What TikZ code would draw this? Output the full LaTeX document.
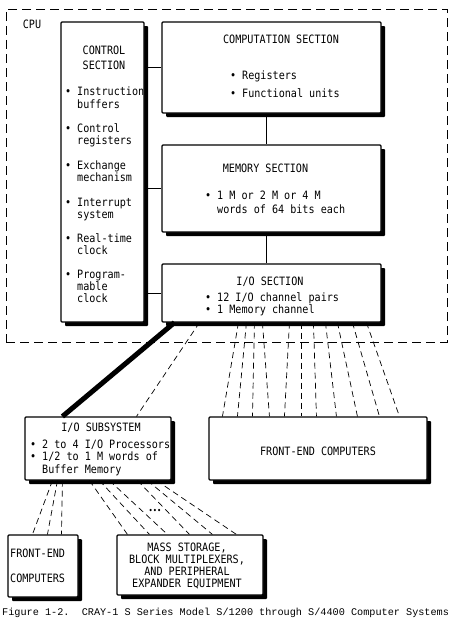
\documentclass[tikz,border=0pt]{standalone}
\usepackage{fontspec}
\newfontfamily\boxfont[FakeStretch=0.88]{DejaVu Sans Mono}
\newfontfamily\capfont{Liberation Mono}
\usetikzlibrary{positioning}

\begin{document}
\begin{tikzpicture}[x=1pt, y=-1pt]
            %Block styles
            \tikzstyle{block} = [draw, fill=white, rectangle, rounded corners=1pt, line width=1.1pt, inner sep=0pt, preaction={fill=black, transform canvas={xshift=4pt, yshift=-4pt}}]
            \tikzstyle{txt} = [inner sep=0pt, font=\boxfont\fontsize{11.5}{12}\selectfont]
            \tikzstyle{item} = [txt, align=left, anchor=base west]
            \tikzstyle{link} = [dash pattern=on 6pt off 4pt, line width=0.7pt]

            \useasboundingbox (0,0) rectangle (452,621);

            %Nodes (multi-line texts sit on the baseline of their last line)
            \node[draw, dash pattern=on 9pt off 5pt, line width=1pt, minimum width=441, minimum height=333] at (226.5,175.5) (cpu) {};
            \node[txt] at (32,24) (cpulabel) {CPU};

            \node[block, minimum width=83, minimum height=300] at (102.5,172) (ctrl) {};
            \node[block, minimum width=219, minimum height=91] at (271.5,67.5) (comp) {};
            \node[block, minimum width=219, minimum height=87] at (271.5,188.5) (mem) {};
            \node[block, minimum width=219, minimum height=58] at (271.5,293) (io) {};
            \node[block, minimum width=146, minimum height=63] at (98,448.5) (iosub) {};
            \node[block, minimum width=218, minimum height=63] at (318,448.5) (febig) {};
            \node[block, minimum width=70, minimum height=62] at (43,566) (fesmall) {};
            \node[block, minimum width=146, minimum height=60] at (190,565) (mass) {};

            %Control section text
            \node[txt, align=center, anchor=base, font=\boxfont\fontsize{11.5}{15}\selectfont] at (104,69) (ctrltitle) {CONTROL\\SECTION};
            \node[item] at (77,108) (ins) {\llap{\textbullet\ }Instruction\\[1pt]buffers};
            \node[item] at (77,144) (creg) {\llap{\textbullet\ }Control\\registers};
            \node[item] at (77,181) (exch) {\llap{\textbullet\ }Exchange\\mechanism};
            \node[item] at (77,218) (intr) {\llap{\textbullet\ }Interrupt\\system};
            \node[item] at (77,254) (rtc) {\llap{\textbullet\ }Real-time\\clock};
            \node[item] at (77,302) (pclk) {\llap{\textbullet\ }Program-\\mable\\clock};

            %Section texts
            \node[txt, anchor=base] at (281,43) (comptitle) {COMPUTATION SECTION};
            \node[item] at (242,79) (regs) {\llap{\textbullet\ }Registers};
            \node[item] at (242,97) (fu) {\llap{\textbullet\ }Functional units};
            \node[txt, anchor=base] at (265.5,172) (memtitle) {MEMORY SECTION};
            \node[item] at (217,213) (words) {\llap{\textbullet\ }1 M or 2 M or 4 M\\[2pt]words of 64 bits each};
            \node[txt, anchor=base] at (270,285) (iotitle) {I/O SECTION};
            \node[item] at (217,313) (chan) {\llap{\textbullet\ }12 I/O channel pairs\\\llap{\textbullet\ }1 Memory channel};

            %Outside the CPU
            \node[txt, anchor=base] at (101,431) (subtitle) {I/O SUBSYSTEM};
            \node[item] at (42,473) (proc) {\llap{\textbullet\ }2 to 4 I/O Processors\\[0.5pt]\llap{\textbullet\ }1/2 to 1 M words of\\[0.5pt]Buffer Memory};
            \node[txt, anchor=base] at (318,455) (fetext) {FRONT-END COMPUTERS};
            \node[item] at (10,582) (fesmalltext) {FRONT-END\\[13pt]COMPUTERS};
            \node[txt, align=center, anchor=base] at (187,587) (masstext) {MASS STORAGE,\\BLOCK MULTIPLEXERS,\\AND PERIPHERAL\\EXPANDER EQUIPMENT};
            \node[txt, font=\boxfont\fontsize{8}{8}\selectfont] at (155,511) (more) {\textbullet\textbullet\textbullet};
            \node[anchor=base west, inner sep=0pt, font=\capfont\fontsize{10.2}{12}\selectfont] at (2,615) (caption) {Figure 1-2.\ \ CRAY-1 S Series Model S/1200 through S/4400 Computer Systems};

            %Connections inside the CPU
            \draw[line width=1pt] (ctrl.east |- comp.west) -- (comp.west);
            \draw[line width=1pt] (ctrl.east |- mem.west) -- (mem.west);
            \draw[line width=1pt] (ctrl.east |- io.west) -- (io.west);
            \draw[line width=1pt] ([xshift=-5]comp.south) -- ([xshift=-5]mem.north);
            \draw[line width=1pt] ([xshift=-5]mem.south) -- ([xshift=-5]io.north);

            %Channels
            \draw[line width=5pt] ([xshift=13]io.south west) -- ([xshift=38]iosub.north west);
            \draw[link] ([xshift=38]io.south west) -- ([xshift=112]iosub.north west);
            \foreach \a/\b in {77/14, 85/29, 93/44, 101/61, 128/76, 140/93, 152/108, 164/128, 176/149, 191/171, 205/191}
                \draw[link] ([xshift=\a]io.south west) -- ([xshift=\b]febig.north west);
            \foreach \a/\b in {28/25, 33/40, 38/54}
                \draw[link] ([xshift=\a]iosub.south west) -- ([xshift=\b]fesmall.north west);
            \foreach \a/\b in {65/11, 75/33, 85/51, 113/73, 123/96, 132/120}
                \draw[link] ([xshift=\a]iosub.south west) -- ([xshift=\b]mass.north west);
\end{tikzpicture}
\end{document}
